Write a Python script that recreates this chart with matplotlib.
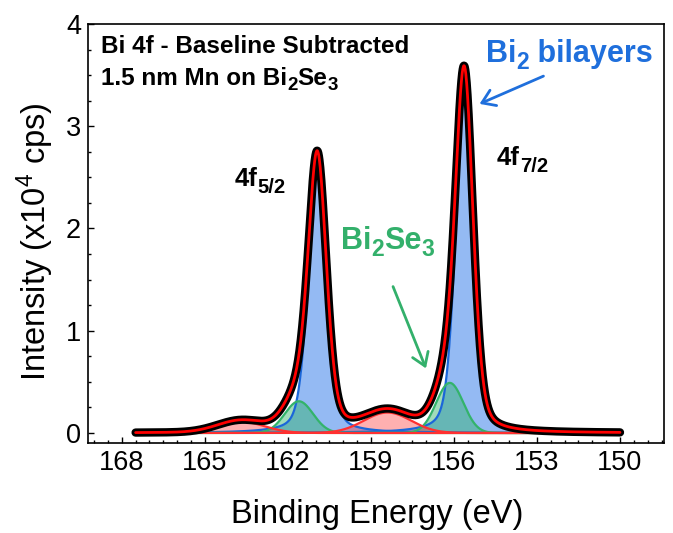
import numpy as np
import matplotlib
matplotlib.use("Agg")
import matplotlib.pyplot as plt
from matplotlib.ticker import MultipleLocator
from matplotlib.patches import FancyArrowPatch

plt.rcParams['font.family'] = ['Liberation Sans', 'DejaVu Sans']
plt.rcParams['mathtext.fontset'] = 'custom'
plt.rcParams['mathtext.rm'] = 'Liberation Sans'
plt.rcParams['mathtext.bf'] = 'Liberation Sans:bold'
plt.rcParams['mathtext.it'] = 'Liberation Sans:italic'

# ---- data (fit components, x10^4 cps) ----
energy_start = 167.5
energy_stop = 150.0
comp_group = ["bilayer", "bilayer", "bi2se3", "bi2se3", "other", "other"]
comp_center = [155.62, 160.93, 156.15, 161.60, 158.40, 163.70]
comp_height = [3.31, 2.62, 0.49, 0.31, 0.20, 0.11]
comp_fwhm = [0.75, 0.78, 1.15, 1.20, 2.0, 2.0]
comp_eta = [0.33, 0.33, 0.0, 0.0, 0.0, 0.0]

x_ticks = [168, 165, 162, 159, 156, 153, 150]
y_ticks = [0, 1, 2, 3, 4]

group_fill = {"bilayer": ("#1f70e6", 0.48), "bi2se3": ("#2fb36a", 0.45), "other": ("#ff3b3b", 0.40)}
group_edge = {"bilayer": "#1a66d9", "bi2se3": "#33b36b", "other": "#ff3030"}


def pseudo_voigt(e, c, h, w, eta):
    u = (e - c) / w
    return h * (eta / (1 + 4 * u ** 2) + (1 - eta) * np.exp(-4 * np.log(2) * u ** 2))


E = np.linspace(energy_start, energy_stop, 1751)
comps = [pseudo_voigt(E, c, h, w, eta) for c, h, w, eta in
         zip(comp_center, comp_height, comp_fwhm, comp_eta)]
envelope = np.sum(comps, axis=0)

W, H = 673, 533
fig = plt.figure(figsize=(W / 100, H / 100), dpi=100)
ax = fig.add_axes([88 / W, 1 - 442.7 / H, (664 - 88) / W, (442.7 - 24) / H])

for g, y in zip(comp_group, comps):
    col, a = group_fill[g]
    ax.fill_between(E, 0, y, color=col, alpha=a, lw=0, zorder=2)
for g, y in zip(comp_group, comps):
    ax.plot(E, y, color=group_edge[g], lw=1.6, zorder=3)

ax.plot(E, envelope, color="black", lw=6, solid_capstyle="round", zorder=4)
ax.plot(E, envelope, color="#ff0000", lw=2.0, solid_capstyle="round", zorder=5)

ax.set_xlim(169.22, 148.41)
ax.set_ylim(-0.095, 4.0)
ax.set_xticks(x_ticks)
ax.set_yticks(y_ticks)
ax.xaxis.set_minor_locator(MultipleLocator(0.5))
ax.yaxis.set_minor_locator(MultipleLocator(0.25))
ax.tick_params(which="both", direction="in", top=False, right=False, labelsize=19.5, width=1)
ax.tick_params(which="major", length=4.5, pad=5)
ax.tick_params(which="minor", length=2.5)
for s in ax.spines.values():
    s.set_linewidth(1.2)

ax.set_xlabel("Binding Energy (eV)", fontsize=23.5)
ax.set_ylabel("Intensity (x10$^4$ cps)", fontsize=23.5)
ax.xaxis.set_label_coords(0.502, -0.135)
ax.yaxis.set_label_coords(-0.055, 0.479)

renderer = fig.canvas.get_renderer()


def rich_text(x_px, y_px, pieces, color="black"):
    """pieces: list of (text, fontsize, baseline shift in px downward)."""
    x = x_px
    for s, fs, dy in pieces:
        t = fig.text(x / W, 1 - (y_px + dy) / H, s, fontsize=fs, fontweight="bold",
                     color=color, ha="left", va="baseline")
        x += t.get_window_extent(renderer).width


def px(xp, yp):
    return (xp / W, 1 - yp / H)


rich_text(101, 53, [("Bi 4f - Baseline Subtracted", 17.5, 0)])
rich_text(101, 85, [("1.5 nm Mn on Bi", 17.5, 0), ("2", 13.5, 5), ("Se", 17.5, 0), ("3", 13.5, 5)])
rich_text(486, 62, [("Bi", 22, 0), ("2", 16.5, 7), (" bilayers", 22, 0)], color="#1f6fdc")
rich_text(497, 165, [("4f", 18.5, 0), ("7/2", 14.5, 7)])
rich_text(235, 186, [("4f", 18.5, 0), ("5/2", 14.5, 7)])
rich_text(341, 249, [("Bi", 22, 0), ("2", 16.5, 7), ("Se", 22, 0), ("3", 16.5, 7)], color="#33b06b")

fig.add_artist(FancyArrowPatch(px(546, 75), px(477, 105),
               transform=fig.transFigure, arrowstyle="->,head_length=6,head_width=4",
               color="#1f6fdc", lw=2, mutation_scale=1.5))
fig.add_artist(FancyArrowPatch(px(392, 284), px(427, 371),
               transform=fig.transFigure, arrowstyle="->,head_length=6,head_width=4",
               color="#33b06b", lw=2, mutation_scale=1.5))

fig.savefig("out.png", dpi=100)
